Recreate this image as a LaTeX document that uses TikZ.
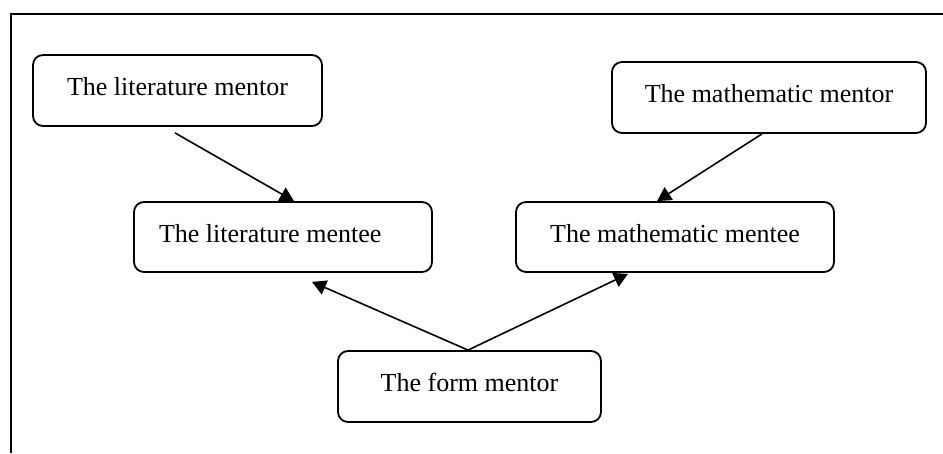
\documentclass[tikz,border=0pt]{standalone}
\usepackage{fontspec}
\setmainfont{Liberation Serif}
\usetikzlibrary{arrows.meta}
\begin{document}
\begin{tikzpicture}[x=1pt,y=1pt,
  rolebox/.style={draw, line width=1.8pt, rounded corners=10pt, inner sep=0pt,
    font=\fontsize{26}{30}\selectfont, text depth=8pt},
  link/.style={line width=1.6pt, -{Triangle[length=14pt,width=15pt]}}]
  \useasboundingbox (0,0) rectangle (943,453);
  % open frame: top and left rules only
  \draw[line width=2.2pt] (943,439) -- (11,439) -- (11,0);

  \node[rolebox, minimum width=289pt, minimum height=71pt] (litmentor) at (177.5,362.5) {The literature mentor};
  \node[rolebox, minimum width=314pt, minimum height=71pt] (mathmentor) at (769,355.5) {The mathematic mentor};
  \node[rolebox, minimum height=70pt, inner xsep=25pt, text width=248pt, align=flush left] (litmentee) at (283,216) {The literature mentee};
  \node[rolebox, minimum width=318pt, minimum height=70pt] (mathmentee) at (675,216) {The mathematic mentee};
  \node[rolebox, minimum width=263pt, minimum height=71pt] (formmentor) at (469.5,66.5) {The form mentor};

  \draw[link] ([xshift=-2.5pt,yshift=-6pt]litmentor.south) -- ([xshift=11pt]litmentee.north);
  \draw[link] ([xshift=-7pt]mathmentor.south) -- ([xshift=-18pt]mathmentee.north);
  \draw[link] ([xshift=-1.5pt]formmentor.north) -- ([xshift=29pt,yshift=-9pt]litmentee.south);
  \draw[link] ([xshift=-1.5pt]formmentor.north) -- ([xshift=-47pt,yshift=-1pt]mathmentee.south);
\end{tikzpicture}
\end{document}
